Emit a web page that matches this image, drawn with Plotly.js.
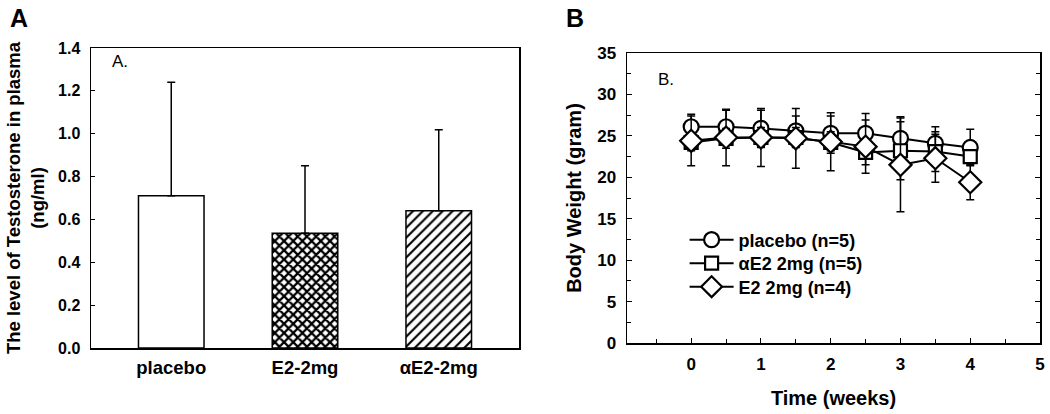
<!DOCTYPE html>
<html>
<head>
<meta charset="utf-8">
<script src="https://cdn.plot.ly/plotly-3.0.1.min.js"></script>
<style>html,body{margin:0;padding:0;background:#fff}#chart{width:1050px;height:414px}</style>
</head>
<body>
<div id="chart"></div>
<script>
// Panel A data
const groupsA = ["placebo", "E2-2mg", "\u03b1E2-2mg"];
const testosterone = [0.71, 0.535, 0.641];
const testosteroneErr = [0.53, 0.316, 0.377];
const patternsA = ["", "x", "/"];

// Panel B data
const weeks = [0, 0.5, 1, 1.5, 2, 2.5, 3, 3.5, 4];
const placeboW = [26.1, 26.1, 25.9, 25.6, 25.3, 25.3, 24.7, 24.1, 23.6];
const placeboErr = [1.5, 2.0, 2.2, 1.8, 2.1, 2.4, 2.6, 2.0, 2.2];
const aE2W = [24.2, 24.7, 24.8, 24.8, 24.2, 23.0, 23.2, 23.1, 22.5];
const aE2Err = [1.0, 1.2, 1.2, 1.2, 1.3, 1.5, 3.5, 2.4, 0.8];
const e2W = [24.4, 24.8, 24.8, 24.7, 24.3, 23.7, 21.5, 22.3, 19.4];
const e2Err = [3.0, 3.4, 3.5, 3.6, 3.5, 3.2, 5.65, 2.9, 2.1];
const seriesNamesB = ["placebo (n=5)", "\u03b1E2 2mg (n=5)", "E2 2mg (n=4)"];

const FONT = "Liberation Sans, Arial, Helvetica, sans-serif";
const bold = (size) => ({family: FONT, size: size, color: "#000", weight: "bold"});

const traces = [];
traces.push({
  type: "bar", x: groupsA, y: testosterone, xaxis: "x", yaxis: "y",
  width: 0.49, showlegend: false,
  marker: {color: "#fff", line: {color: "#000", width: 1.5},
    pattern: {shape: patternsA, fgcolor: "#000", bgcolor: "#fff", size: [6, 6.5, 7], solidity: [0.3, 0.58, 0.3]}},
  error_y: {type: "data", symmetric: false, array: testosteroneErr, arrayminus: [0,0,0],
    color: "#000", thickness: 1.5, width: 4}
});

const bSeries = [
  {y: placeboW, e: placeboErr, sym: "circle", size: 15},
  {y: aE2W, e: aE2Err, sym: "square", size: 13},
  {y: e2W, e: e2Err, sym: "diamond", size: 17}
];
const legendNames = ["legend", "legend2", "legend3"];
bSeries.forEach((s, i) => {
  traces.push({
    type: "scatter", mode: "lines+markers", x: weeks, y: s.y, xaxis: "x2", yaxis: "y2",
    name: seriesNamesB[i], legend: legendNames[i],
    line: {color: "#000", width: 2},
    marker: {symbol: s.sym, size: s.size, color: "#fff", line: {color: "#000", width: 2.2}},
    error_y: {type: "data", array: s.e, color: "#000", thickness: 1.5, width: 4}
  });
});

const legendBase = (yTop) => ({x: 0.652, y: yTop, xanchor: "left", yanchor: "middle",
  bgcolor: "rgba(0,0,0,0)", font: bold(18), itemwidth: 44});

const layout = {
  width: 1050, height: 414,
  margin: {l: 0, r: 0, t: 0, b: 0},
  paper_bgcolor: "#fff", plot_bgcolor: "#fff",
  font: {family: FONT, color: "#000"},
  showlegend: true,
  legend: legendBase(1 - 240/414),
  legend2: legendBase(1 - 263.5/414),
  legend3: legendBase(1 - 287/414),
  xaxis: {domain: [91/1050, 519/1050], range: [-0.6, 2.6], type: "category",
    showline: true, linecolor: "#000", linewidth: 1.5, mirror: true, ticks: "",
    tickfont: bold(18.5), ticklabelstandoff: 2, showgrid: false, zeroline: false},
  yaxis: {domain: [66/414, 366/414], range: [0, 1.4], tickvals: [0,0.2,0.4,0.6,0.8,1.0,1.2,1.4],
    ticktext: ["0.0","0.2","0.4","0.6","0.8","1.0","1.2","1.4"],
    showline: true, linecolor: "#000", linewidth: 1.5, mirror: true, ticks: "inside", ticklen: 4,
    tickcolor: "#000", tickfont: bold(16), ticklabelstandoff: 6, showgrid: false, zeroline: false,
    title: {text: "The level of Testosterone in plasma<br>(ng/ml)", font: bold(18.5), standoff: 8}},
  xaxis2: {domain: [627/1050, 1040/1050], range: [-0.92, 5], anchor: "y2",
    tickvals: [0,1,2,3,4,5], showline: true, linecolor: "#000", linewidth: 1.5, mirror: true,
    ticks: "inside", ticklen: 5, tickcolor: "#000", tickfont: bold(17), ticklabelstandoff: 5,
    minor: {dtick: 0.5, tick0: 0, ticks: "inside", ticklen: 4, tickcolor: "#000"},
    showgrid: false, zeroline: false,
    title: {text: "Time (weeks)", font: bold(20), standoff: 18}},
  yaxis2: {domain: [71/414, 361/414], range: [0, 35], anchor: "x2", dtick: 5,
    showline: true, linecolor: "#000", linewidth: 1.5, mirror: "allticks",
    ticks: "inside", ticklen: 5, tickcolor: "#000", tickfont: bold(17), ticklabelstandoff: 6,
    minor: {dtick: 2.5, ticks: "inside", ticklen: 4, tickcolor: "#000"},
    showgrid: false, zeroline: false,
    title: {text: "Body Weight (gram)", font: bold(20), standoff: 10}},
  annotations: [
    {text: "A", x: 8/1050, y: 1 - 2/414, xref: "paper", yref: "paper", xanchor: "left", yanchor: "top",
      showarrow: false, font: bold(25)},
    {text: "B", x: 564/1050, y: 1 - 2/414, xref: "paper", yref: "paper", xanchor: "left", yanchor: "top",
      showarrow: false, font: bold(25)},
    {text: "A.", x: 110/1050, y: 1 - 50/414, xref: "paper", yref: "paper", xanchor: "left", yanchor: "top",
      showarrow: false, font: {family: FONT, size: 17, color: "#000"}},
    {text: "B.", x: 656/1050, y: 1 - 68/414, xref: "paper", yref: "paper", xanchor: "left", yanchor: "top",
      showarrow: false, font: {family: FONT, size: 17, color: "#000"}}
  ]
};

Plotly.newPlot("chart", traces, layout, {displayModeBar: false, staticPlot: true});
</script>
</body>
</html>
